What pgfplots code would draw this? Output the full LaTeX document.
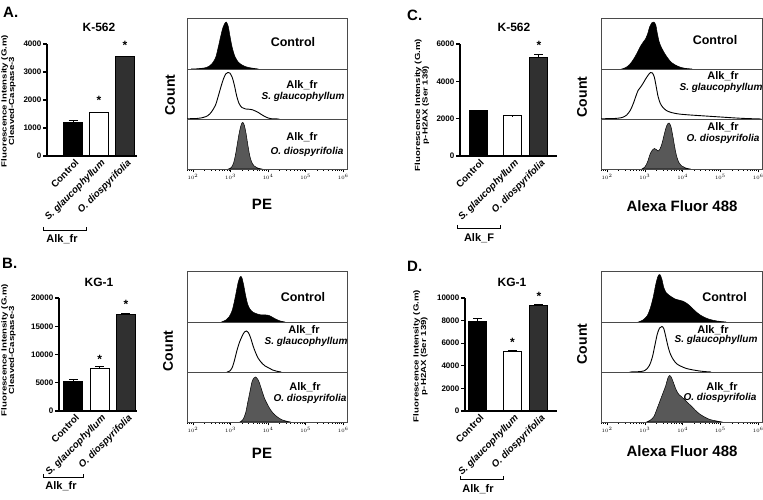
\documentclass[border=0pt]{standalone}
\usepackage{fontspec}
\setmainfont{Liberation Sans}
\usepackage{graphicx}
\usepackage{pgfplots}
\usepackage{pgfplotstable}
\pgfplotsset{compat=1.18}

\definecolor{bardark}{HTML}{303030}
\definecolor{histgrey}{HTML}{585858}
\definecolor{boxline}{HTML}{4A4A4A}

% ---- flow histograms: log10 intensity vs. relative count ----
\pgfplotstableread{
lx h
1.95 0
2.10 0.005
2.36 0.03
2.50 0.10
2.60 0.22
2.67 0.42
2.74 0.65
2.80 0.82
2.86 0.91
2.89 0.92
2.94 0.83
2.99 0.62
3.05 0.40
3.12 0.24
3.20 0.14
3.30 0.08
3.40 0.045
3.55 0.02
3.74 0
}\hAc
\pgfplotstableread{
lx h
1.84 0.005
2.10 0.01
2.27 0.03
2.40 0.07
2.50 0.15
2.60 0.28
2.67 0.45
2.75 0.66
2.81 0.80
2.87 0.90
2.93 0.93
2.98 0.92
3.04 0.84
3.10 0.68
3.16 0.47
3.22 0.32
3.30 0.23
3.40 0.20
3.50 0.195
3.58 0.185
3.66 0.16
3.74 0.13
3.82 0.09
3.91 0.05
4.00 0.02
4.09 0.005
4.30 0
}\hAs
\pgfplotstableread{
lx h
2.94 0
3.02 0.03
3.08 0.12
3.13 0.28
3.18 0.50
3.23 0.72
3.28 0.88
3.32 0.93
3.36 0.89
3.41 0.72
3.46 0.48
3.51 0.27
3.56 0.14
3.63 0.06
3.72 0.02
3.83 0
}\hAo
\pgfplotstableread{
lx h
2.76 0
2.88 0.04
2.96 0.10
3.04 0.22
3.10 0.40
3.16 0.62
3.21 0.80
3.26 0.89
3.30 0.87
3.35 0.72
3.40 0.52
3.46 0.34
3.52 0.25
3.60 0.19
3.70 0.16
3.80 0.14
3.92 0.14
4.02 0.13
4.12 0.09
4.22 0.05
4.32 0.02
4.45 0
}\hBc
\pgfplotstableread{
lx h
2.90 0
2.98 0.02
3.05 0.10
3.11 0.25
3.17 0.43
3.24 0.60
3.31 0.72
3.37 0.80
3.42 0.82
3.48 0.78
3.54 0.67
3.60 0.52
3.67 0.38
3.74 0.27
3.82 0.19
3.92 0.12
4.02 0.08
4.12 0.04
4.23 0.015
4.35 0
}\hBs
\pgfplotstableread{
lx h
3.25 0
3.33 0.05
3.40 0.18
3.46 0.40
3.52 0.62
3.57 0.80
3.62 0.88
3.67 0.90
3.72 0.86
3.77 0.78
3.83 0.64
3.90 0.48
3.97 0.37
4.05 0.26
4.13 0.18
4.23 0.11
4.35 0.05
4.47 0.02
4.60 0
}\hBo
\pgfplotstableread{
lx h
2.39 0
2.50 0.03
2.60 0.09
2.70 0.19
2.80 0.32
2.88 0.44
2.95 0.52
3.01 0.58
3.07 0.68
3.13 0.83
3.19 0.91
3.24 0.92
3.29 0.86
3.33 0.70
3.38 0.53
3.44 0.42
3.52 0.31
3.60 0.22
3.70 0.13
3.80 0.08
3.92 0.04
4.05 0.015
4.25 0
}\hCc
\pgfplotstableread{
lx h
1.84 0.005
2.20 0.01
2.40 0.03
2.52 0.08
2.62 0.18
2.70 0.32
2.76 0.45
2.82 0.57
2.88 0.63
2.95 0.71
3.02 0.80
3.09 0.88
3.15 0.93
3.20 0.92
3.25 0.84
3.30 0.65
3.35 0.45
3.41 0.31
3.48 0.23
3.57 0.17
3.70 0.13
3.90 0.10
4.20 0.08
4.60 0.06
5.00 0.04
5.30 0.025
5.60 0.012
5.90 0.004
6.08 0
}\hCs
\pgfplotstableread{
lx h
2.92 0
3.00 0.04
3.07 0.14
3.14 0.30
3.20 0.38
3.25 0.41
3.30 0.39
3.35 0.36
3.40 0.40
3.45 0.50
3.50 0.65
3.55 0.80
3.60 0.90
3.64 0.92
3.69 0.85
3.74 0.66
3.79 0.44
3.84 0.26
3.90 0.13
3.98 0.06
4.08 0.02
4.21 0
}\hCo
\pgfplotstableread{
lx h
2.83 0
2.95 0.04
3.06 0.12
3.14 0.26
3.22 0.48
3.29 0.74
3.35 0.90
3.40 0.93
3.45 0.84
3.50 0.68
3.56 0.58
3.63 0.53
3.71 0.49
3.80 0.45
3.90 0.43
4.00 0.41
4.08 0.38
4.17 0.33
4.27 0.26
4.37 0.19
4.48 0.13
4.58 0.09
4.72 0.05
4.90 0.02
5.15 0
}\hDc
\pgfplotstableread{
lx h
2.60 0
2.90 0.01
3.02 0.04
3.12 0.13
3.20 0.30
3.27 0.55
3.33 0.76
3.39 0.88
3.45 0.91
3.50 0.87
3.55 0.72
3.61 0.52
3.67 0.37
3.75 0.25
3.85 0.16
3.97 0.11
4.10 0.07
4.25 0.045
4.40 0.025
4.56 0.01
4.75 0
}\hDs
\pgfplotstableread{
lx h
3.05 0
3.15 0.04
3.24 0.11
3.32 0.26
3.40 0.42
3.48 0.58
3.55 0.72
3.61 0.88
3.66 0.93
3.71 0.88
3.77 0.76
3.83 0.64
3.90 0.55
3.98 0.50
4.06 0.44
4.14 0.38
4.23 0.32
4.33 0.24
4.45 0.16
4.58 0.10
4.72 0.05
4.90 0.02
5.05 0
}\hDo

\pgfplotsset{
  barpanel/.style={
    scale only axis, anchor=south west, clip=false,
    axis lines*=left,
    axis line style={line width=1.3pt},
    ymin=0,
    scaled y ticks=false,
    tick align=outside,
    major tick length=4pt,
    xtick style={draw=none},
    ytick style={line width=1.1pt, black},
    /pgf/number format/assume math mode=true,
    /pgf/number format/1000 sep={},
    yticklabel style={font=\bfseries\fontsize{8}{9}\selectfont, inner sep=1.5pt},
    xticklabels={Control, \textit{S. glaucophyllum}, \textit{O. diospyrifolia}},
    xticklabel style={rotate=45, anchor=north east, font=\bfseries\fontsize{9.7}{10}\selectfont, inner sep=1pt, xshift=3pt, yshift=1pt},
    ybar, bar shift=0pt,
    error bars/y dir=plus, error bars/y explicit,
    error bars/error bar style={line width=1pt, black},
    error bars/error mark options={rotate=90, line width=1pt, black, mark size=4.5pt},
  },
  strip/.style={
    scale only axis, anchor=south west,
    xmin=1.84, xmax=6.1, ymin=0, ymax=1,
    axis line style={line width=0.8pt, boxline},
    xtick=\empty, ytick=\empty,
  },
  stripbottom/.style={strip,
    xtick={2,3,4,5,6},
    xticklabels={$10^2$,$10^3$,$10^4$,$10^5$,$10^6$},
    minor xtick={1.845,1.903,1.954,
      2.301,2.477,2.602,2.699,2.778,2.845,2.903,2.954,
      3.301,3.477,3.602,3.699,3.778,3.845,3.903,3.954,
      4.301,4.477,4.602,4.699,4.778,4.845,4.903,4.954,
      5.301,5.477,5.602,5.699,5.778,5.845,5.903,5.954},
    xtick pos=left, tick align=outside,
    major tick length=3.5pt, minor tick length=2pt,
    xtick style={black, line width=0.6pt},
    xticklabel style={font=\fontsize{5}{5}\selectfont, inner sep=1pt, yshift=-1pt},
  },
}

\tikzset{
  sig/.style={font=\bfseries\fontsize{12}{12}\selectfont, inner sep=0pt, yshift=-2.5pt},
  letter/.style={font=\bfseries\fontsize{15}{15}\selectfont, anchor=west, inner sep=0pt},
  ttl/.style={font=\bfseries\fontsize{12}{12}\selectfont, inner sep=0pt},
  ylab/.style={rotate=90, align=center, font=\bfseries\fontsize{7.4}{7.4}\selectfont, inner sep=0pt},
  cnt/.style={rotate=90, font=\bfseries\fontsize{14}{14}\selectfont, inner sep=0pt},
  chan/.style={font=\bfseries\fontsize{15}{15}\selectfont, inner sep=0pt},
  ctl/.style={font=\bfseries\fontsize{12.5}{12.5}\selectfont, inner sep=0pt},
  frac/.style={font=\bfseries\fontsize{11}{11}\selectfont, inner sep=0pt},
  spec/.style={font=\bfseries\itshape\fontsize{10}{10}\selectfont, inner sep=0pt},
  grp/.style={font=\bfseries\fontsize{11}{11}\selectfont, inner sep=0pt},
}

% three stacked histogram strips: control (top), S. glaucophyllum, O. diospyrifolia
\newcommand{\histstack}[6]{%
  \begin{axis}[strip, at={(#1,#2+100pt)}, width=#3, height=51pt]
    \addplot[fill=black, draw=black, line width=0.5pt, smooth] table[x=lx, y=h]{#4} \closedcycle;
  \end{axis}
  \begin{axis}[strip, at={(#1,#2+50pt)}, width=#3, height=50pt]
    \addplot[draw=black, line width=0.9pt, smooth] table[x=lx, y=h]{#5};
  \end{axis}
  \begin{axis}[stripbottom, at={(#1,#2)}, width=#3, height=50pt]
    \addplot[fill=histgrey, draw=black, line width=0.5pt, smooth] table[x=lx, y=h]{#6} \closedcycle;
  \end{axis}
}

\begin{document}
\begin{tikzpicture}
\useasboundingbox (0,0) rectangle (763pt,500pt);

% ---------------- A: cleaved caspase-3, K-562 ----------------
\begin{axis}[barpanel, at={(47pt,344pt)}, width=90pt, height=112pt,
  xmin=-1.0, xmax=2.46, ymax=4000, ytick={0,1000,...,4000}, xtick={0,1,2}, bar width=19pt]
  \addplot[fill=black, draw=black, line width=1pt] coordinates {(0,1210) +- (0,60)};
  \addplot[fill=white, draw=black, line width=1pt] coordinates {(1,1550) +- (0,15)};
  \addplot[fill=bardark, draw=black, line width=1pt] coordinates {(2,3540) +- (0,25)};
  \node[sig] at (axis cs:1,2070) {*};
  \node[sig] at (axis cs:2,4035) {*};
\end{axis}
\histstack{187pt}{331pt}{160pt}{\hAc}{\hAs}{\hAo}

% ---------------- B: cleaved caspase-3, KG-1 ----------------
\begin{axis}[barpanel, at={(59pt,89pt)}, width=78pt, height=113pt,
  xmin=-0.55, xmax=2.42, ymax=20000, ytick={0,5000,...,20000}, xtick={0,1,2}, bar width=19pt]
  \addplot[fill=black, draw=black, line width=1pt] coordinates {(0,5150) +- (0,500)};
  \addplot[fill=white, draw=black, line width=1pt] coordinates {(1,7450) +- (0,400)};
  \addplot[fill=bardark, draw=black, line width=1pt] coordinates {(2,17000) +- (0,300)};
  \node[sig] at (axis cs:1,9610) {*};
  \node[sig] at (axis cs:2,19345) {*};
\end{axis}
\histstack{187pt}{78pt}{160pt}{\hBc}{\hBs}{\hBo}

% ---------------- C: p-H2AX, K-562 ----------------
\begin{axis}[barpanel, at={(460pt,344pt)}, width=97pt, height=112pt,
  xmin=-0.68, xmax=2.98, ymax=6000, ytick={0,2000,4000,6000}, xtick={0,1.3,2.3}, bar width=18pt]
  \addplot[fill=black, draw=black, line width=1pt] coordinates {(0,2420) +- (0,25)};
  \addplot[fill=white, draw=black, line width=1pt] coordinates {(1.3,2150) +- (0,10)};
  \addplot[fill=bardark, draw=black, line width=1pt] coordinates {(2.3,5300) +- (0,150)};
  \node[sig] at (axis cs:2.3,6037) {*};
\end{axis}
\histstack{601pt}{331pt}{161pt}{\hCc}{\hCs}{\hCo}

% ---------------- D: p-H2AX, KG-1 ----------------
\begin{axis}[barpanel, at={(465pt,89pt)}, width=92pt, height=113pt,
  xmin=-0.49, xmax=2.98, ymax=10000, ytick={0,2000,...,10000}, xtick={0,1.3,2.3}, bar width=18pt]
  \addplot[fill=black, draw=black, line width=1pt] coordinates {(0,7950) +- (0,240)};
  \addplot[fill=white, draw=black, line width=1pt] coordinates {(1.3,5300) +- (0,40)};
  \addplot[fill=bardark, draw=black, line width=1pt] coordinates {(2.3,9350) +- (0,60)};
  \node[sig] at (axis cs:1.3,6283) {*};
  \node[sig] at (axis cs:2.3,10327) {*};
\end{axis}
\histstack{601pt}{78pt}{161pt}{\hDc}{\hDs}{\hDo}

% ---------------- panel letters and titles ----------------
\node[letter] at (3pt,488pt) {A.};
\node[letter] at (2pt,237pt) {B.};
\node[letter] at (407pt,485pt) {C.};
\node[letter] at (407pt,234pt) {D.};
\node[ttl] at (99pt,473pt) {K-562};
\node[ttl] at (99pt,218pt) {KG-1};
\node[ttl] at (514pt,473pt) {K-562};
\node[ttl] at (512pt,218pt) {KG-1};

% ---------------- bar chart y labels ----------------
\node[ylab] at (8.5pt,399pt) {\scalebox{1.3}[1]{Fluorescence Intensity (G.m)}\\\scalebox{1.3}[1]{Cleaved-Caspase-3}};
\node[ylab] at (8.5pt,150pt) {\scalebox{1.3}[1]{Fluorescence Intensity (G.m)}\\\scalebox{1.3}[1]{Cleaved-Caspase-3}};
\node[ylab] at (422pt,395pt) {\scalebox{1.3}[1]{Fluorescence Intensity (G.m)}\\\scalebox{1.3}[1]{p-H2AX (Ser 139)}};
\node[ylab] at (420.5pt,144pt) {\scalebox{1.3}[1]{Fluorescence Intensity (G.m)}\\\scalebox{1.3}[1]{p-H2AX (Ser 139)}};

% ---------------- fraction brackets ----------------
\draw[line width=0.9pt] (43pt,273pt) -- (43pt,270pt) -- (86pt,270pt) -- (86pt,273pt);
\node[grp] at (62pt,261pt) {Alk\_fr};
\draw[line width=0.9pt] (43pt,26pt) -- (43pt,23pt) -- (83pt,23pt) -- (83pt,26pt);
\node[grp] at (61pt,14pt) {Alk\_fr};
\draw[line width=0.9pt] (457pt,275pt) -- (457pt,272pt) -- (500pt,272pt) -- (500pt,275pt);
\node[grp] at (479pt,262pt) {Alk\_F};
\draw[line width=0.9pt] (460pt,24pt) -- (460pt,21pt) -- (503pt,21pt) -- (503pt,24pt);
\node[grp] at (478pt,11pt) {Alk\_fr};

% ---------------- histogram axis titles ----------------
\node[cnt] at (170pt,405pt) {Count};
\node[cnt] at (168pt,149pt) {Count};
\node[cnt] at (582pt,403pt) {Count};
\node[cnt] at (582pt,156pt) {Count};
\node[chan] at (262pt,296pt) {PE};
\node[chan] at (262pt,47pt) {PE};
\node[chan] at (682pt,294pt) {Alexa Fluor 488};
\node[chan] at (682pt,49pt) {Alexa Fluor 488};

% ---------------- strip captions ----------------
\node[ctl] at (293pt,458pt) {Control};
\node[frac] at (302pt,414.5pt) {Alk\_fr};
\node[spec] at (303pt,403pt) {S. glaucophyllum};
\node[frac] at (302pt,363pt) {Alk\_fr};
\node[spec] at (307pt,348pt) {O. diospyrifolia};

\node[ctl] at (303pt,203pt) {Control};
\node[frac] at (304pt,170pt) {Alk\_fr};
\node[spec] at (306pt,158pt) {S. glaucophyllum};
\node[frac] at (305pt,113pt) {Alk\_fr};
\node[spec] at (310pt,101pt) {O. diospyrifolia};

\node[ctl] at (715pt,460pt) {Control};
\node[frac] at (723pt,423.5pt) {Alk\_fr};
\node[spec] at (721pt,412.5pt) {S. glaucophyllum};
\node[frac] at (723pt,373pt) {Alk\_fr};
\node[spec] at (723pt,361pt) {O. diospyrifolia};

\node[ctl] at (724.5pt,203pt) {Control};
\node[frac] at (713pt,170pt) {Alk\_fr};
\node[spec] at (716pt,160pt) {S. glaucophyllum};
\node[frac] at (722pt,113pt) {Alk\_fr};
\node[spec] at (720pt,102pt) {O. diospyrifolia};
\end{tikzpicture}
\end{document}
